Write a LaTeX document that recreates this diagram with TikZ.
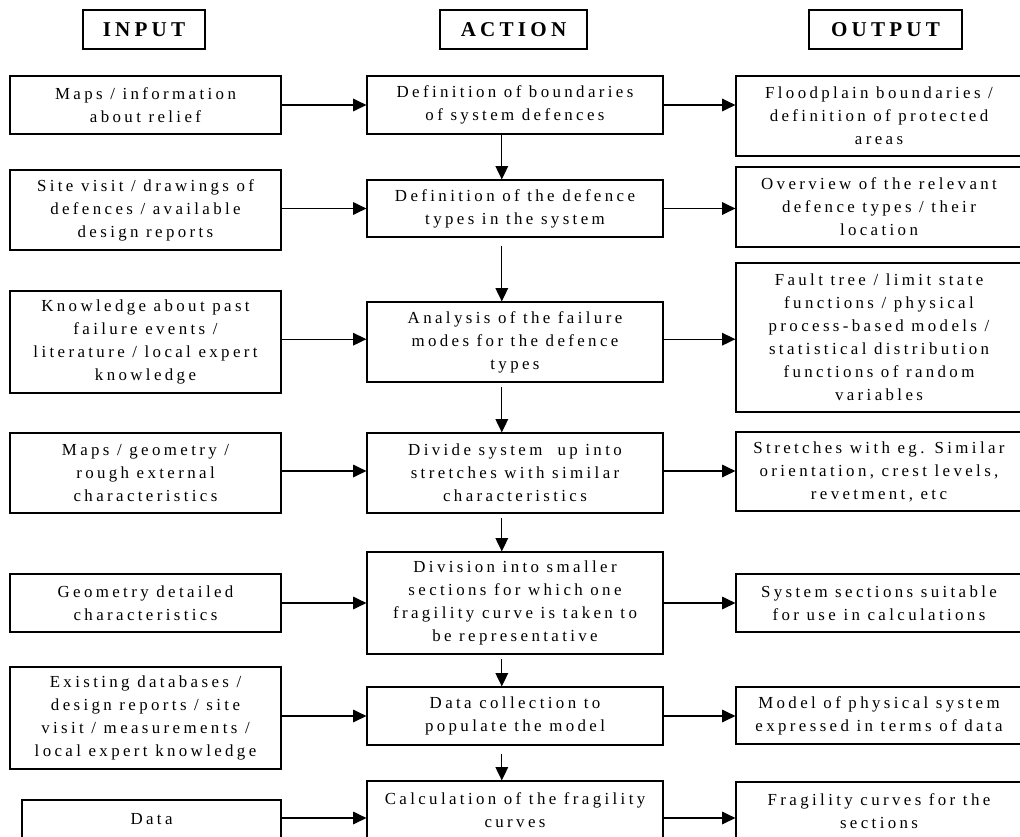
\documentclass[tikz,border=0pt]{standalone}
\usepackage{fontspec}
\setmainfont[LetterSpace=20]{Liberation Serif}
\usetikzlibrary{arrows.meta}

\begin{document}
\begin{tikzpicture}[x=0.025cm,y=-0.025cm,
        >={Triangle[length=9.5pt,width=9pt]},
        line width=0.8pt]
        \useasboundingbox (0,0) rectangle (1020,836);
        \clip (0,0) rectangle (1020,836);
        % column heads
        \begin{scope}[every node/.style={draw,inner sep=0pt,minimum height=0.975cm,font=\fontsize{15}{18}\selectfont\bfseries}]
        \node[minimum width=3.05cm] (hin) at (144,29.5) {INPUT};
        \node[minimum width=3.675cm] (hact) at (513.5,29.5) {ACTION};
        \node[minimum width=3.825cm] (hout) at (885.5,29.5) {OUTPUT};
        \end{scope}
        % boxes
        \begin{scope}[every node/.style={draw,align=center,inner sep=0pt,font=\fontsize{12}{16.4}\selectfont}]
        \node[minimum width=6.775cm,minimum height=1.45cm] (in1) at (145.5,105) {Maps / information\\about relief};
        \node[minimum width=6.775cm,minimum height=2cm] (in2) at (145.5,210) {Site visit / drawings of\\defences / available\\design reports};
        \node[minimum width=6.775cm,minimum height=2.55cm] (in3) at (145.5,342) {Knowledge about past\\failure events /\\literature / local expert\\knowledge};
        \node[minimum width=6.775cm,minimum height=2cm] (in4) at (145.5,473) {Maps / geometry /\\rough external\\characteristics};
        \node[minimum width=6.775cm,minimum height=1.45cm] (in5) at (145.5,603) {Geometry detailed\\characteristics};
        \node[minimum width=6.775cm,minimum height=2.55cm] (in6) at (145.5,718) {Existing databases /\\design reports / site\\visit / measurements /\\local expert knowledge};
        \node[minimum width=6.475cm,minimum height=0.95cm] (in7) at (151.5,819) {Data};

        \node[minimum width=7.4cm,minimum height=1.45cm] (act1) at (515,105) {Definition of boundaries\\of system defences};
        \node[minimum width=7.4cm,minimum height=1.425cm] (act2) at (515,208.5) {Definition of the defence\\types in the system};
        \node[minimum width=7.4cm,minimum height=2cm] (act3) at (515,342) {Analysis of the failure\\modes for the defence\\types};
        \node[minimum width=7.4cm,minimum height=2cm] (act4) at (515,473) {Divide system \ up into\\stretches with similar\\characteristics};
        \node[minimum width=7.4cm,minimum height=2.55cm] (act5) at (515,603) {Division into smaller\\sections for which one\\fragility curve is taken to\\be representative};
        \node[minimum width=7.4cm,minimum height=1.45cm] (act6) at (515,716) {Data collection to\\populate the model};
        \node[minimum width=7.4cm,minimum height=1.45cm] (act7) at (515,810) {Calculation of the fragility\\curves};

        \node[minimum width=7.15cm,minimum height=2cm] (out1) at (879,116) {Floodplain boundaries /\\definition of protected\\areas};
        \node[minimum width=7.15cm,minimum height=2cm] (out2) at (879,207) {Overview of the relevant\\defence types / their\\location};
        \node[minimum width=7.15cm,minimum height=3.725cm] (out3) at (879,337.5) {Fault tree / limit state\\functions / physical\\process-based models /\\statistical distribution\\functions of random\\variables};
        \node[minimum width=7.15cm,minimum height=1.975cm] (out4) at (879,471.5) {Stretches with eg. Similar\\orientation, crest levels,\\revetment, etc};
        \node[minimum width=7.15cm,minimum height=1.45cm] (out5) at (879,603) {System sections suitable\\for use in calculations};
        \node[minimum width=7.15cm,minimum height=1.425cm] (out6) at (879,715.5) {Model of physical system\\expressed in terms of data};
        \node[minimum width=7.15cm,minimum height=1.45cm] (out7) at (879,811) {Fragility curves for the\\sections};
        \end{scope}
        % input -> action
        \draw[->] (act1.west -| in1.east) -- (act1.west);
        \draw[->] (act2.west -| in2.east) -- (act2.west);
        \draw[->] ([yshift=0.07cm]act3.west -| in3.east) -- ([yshift=0.07cm]act3.west);
        \draw[->] ([yshift=0.05cm]act4.west -| in4.east) -- ([yshift=0.05cm]act4.west);
        \draw[->] (act5.west -| in5.east) -- (act5.west);
        \draw[->] (act6.west -| in6.east) -- (act6.west);
        \draw[->] (in7.east |- 0,818) -- (act7.west |- 0,818);
        % action -> output
        \draw[->] (act1.east) -- (act1.east -| out1.west);
        \draw[->] (act2.east) -- (act2.east -| out2.west);
        \draw[->] ([yshift=0.07cm]act3.east) -- ([yshift=0.07cm]act3.east -| out3.west);
        \draw[->] ([yshift=0.05cm]act4.east) -- ([yshift=0.05cm]act4.east -| out4.west);
        \draw[->] (act5.east) -- (act5.east -| out5.west);
        \draw[->] (act6.east) -- (act6.east -| out6.west);
        \draw[->] (act7.east |- 0,818) -- (out7.west |- 0,818);
        % action chain
        \draw[->] ([xshift=-0.33cm]act1.south) -- ([xshift=-0.33cm]act2.north);
        \draw[->,shorten <=0.2cm] ([xshift=-0.33cm]act2.south) -- ([xshift=-0.33cm]act3.north);
        \draw[->,shorten <=0.1cm] ([xshift=-0.33cm]act3.south) -- ([xshift=-0.33cm]act4.north);
        \draw[->,shorten <=0.12cm] ([xshift=-0.33cm]act4.south) -- ([xshift=-0.33cm]act5.north);
        \draw[->,shorten <=0.12cm] ([xshift=-0.33cm]act5.south) -- ([xshift=-0.33cm]act6.north);
        \draw[->,shorten <=0.2cm] ([xshift=-0.33cm]act6.south) -- ([xshift=-0.33cm]act7.north);
    \end{tikzpicture}
\end{document}
